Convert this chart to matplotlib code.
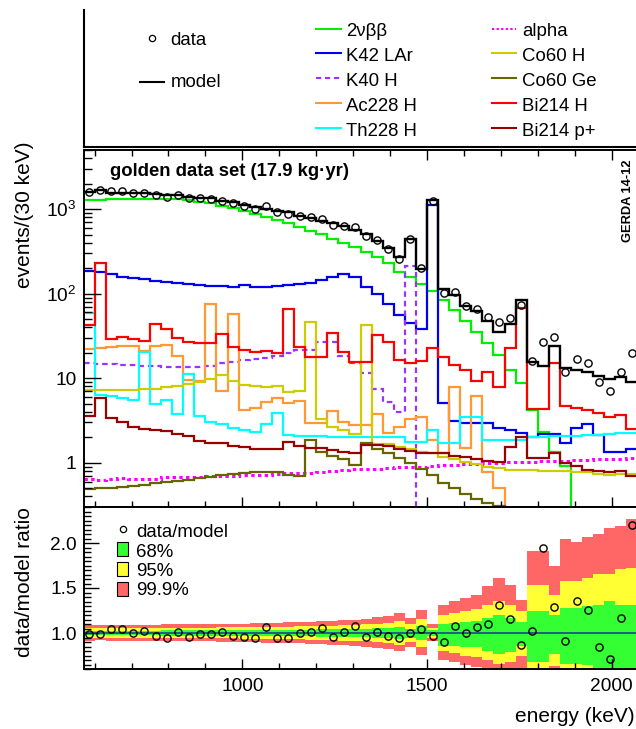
import numpy as np
import matplotlib.pyplot as plt
from matplotlib.lines import Line2D
from matplotlib.patches import Rectangle
from matplotlib.ticker import (FixedLocator, FixedFormatter, LogLocator,
                               MultipleLocator, NullFormatter)

plt.rcParams['font.family'] = ['Liberation Sans', 'DejaVu Sans']
plt.rcParams['mathtext.fontset'] = 'custom'
plt.rcParams['mathtext.rm'] = 'Liberation Sans'
plt.rcParams['mathtext.default'] = 'regular'

# ---------------------------------------------------------------------------
# Binning (keV) and the values, one entry per 30 keV bin
# ---------------------------------------------------------------------------
e_min, e_max, bin_width = 570, 2070, 30
edges = np.arange(e_min, e_max + bin_width, bin_width)
centers = 0.5 * (edges[:-1] + edges[1:])

data_counts = [1584, 1673, 1622, 1622, 1555, 1566, 1474, 1391, 1465, 1344,
               1346, 1327, 1263, 1183, 1075, 1001, 1086, 912, 870, 835,
               803, 769, 656, 636, 610, 485, 429, 340, 254, 443,
               203, 1242, 103, 105, 72, 66, 53, 46, 51, 74,
               16, 27, 31, 12, 17, 15, 9, 7, 12, 20]

model = [1600, 1690, 1560, 1560, 1555, 1535, 1520, 1480, 1450, 1400,
         1360, 1340, 1250, 1220, 1120, 1065, 1015, 960, 925, 835,
         795, 725, 690, 630, 565, 505, 425, 350, 270, 443,
         195, 1280, 114, 97, 72, 62, 48, 35, 44, 85,
         15.7, 13.9, 24.0, 13.1, 12.5, 11.9, 10.6, 9.8, 10.3, 9.1]

two_nbb = [1282, 1294, 1306, 1318, 1329, 1329, 1329, 1320, 1306, 1282,
           1225, 1172, 1089, 1023, 958, 875, 813, 743, 679, 609,
           556, 504, 443, 401, 359, 308, 269, 229, 182, 159,
           130, 108, 84, 64, 47, 35, 25.9, 18.8, 12.5, 8.7,
           4.2, 2.33, 1.35, 0.91, 0.01, 0.01, 0.01, 0.01, 0.01, 0.01]

k42_lar = [185, 179, 169, 159, 152, 148, 142, 139, 132, 129,
           126, 124, 123, 121, 126, 121, 121, 123, 126, 129,
           135, 145, 159, 171, 159, 121, 99, 75.5, 56, 44.6,
           37.9, 1119, 5.05, 3.12, 2.98, 2.95, 2.93, 2.6, 2.44, 2.27,
           2.04, 2.19, 2.19, 1.70, 2.6, 2.88, 2.13, 1.35, 1.34, 1.45]

k40_h = [15.0, 14.8, 14.6, 14.4, 14.2, 14.0, 13.9, 13.7, 13.7, 13.7,
         13.7, 13.8, 15.0, 15.7, 16.5, 17.0, 17.2, 18.5, 19.7, 21.6,
         21.6, 27.0, 27.0, 18.5, 15.0, 11.4, 7.4, 5.3, 4.0, 214,
         0.01, 0.01, 0.01, 0.01, 0.01, 0.01, 0.01, 0.01, 0.01, 0.01,
         0.01, 0.01, 0.01, 0.01, 0.01, 0.01, 0.01, 0.01, 0.01, 0.01]

ac228_h = [22.1, 23.0, 23.6, 24.3, 24.0, 21.2, 24.3, 24.5, 18.3, 9.5,
           9.35, 75.5, 7.1, 57.5, 4.2, 4.5, 5.3, 5.8, 5.05, 5.4,
           2.98, 2.93, 4.1, 3.06, 2.8, 2.8, 3.74, 2.27, 2.67, 3.27,
           3.5, 1.86, 1.30, 7.9, 1.48, 6.2, 0.77, 0.50, 0.01, 0.01,
           0.01, 0.01, 0.01, 0.01, 0.01, 0.01, 0.01, 0.01, 0.01, 0.01]

th228_h = [59.6, 6.3, 6.2, 5.8, 5.6, 20.6, 4.95, 5.6, 3.74, 11.2,
           3.6, 3.06, 2.88, 2.6, 2.44, 2.33, 2.88, 3.9, 2.13, 2.1,
           2.05, 2.05, 2.04, 2.04, 2.03, 2.03, 2.02, 2.02, 2.0, 1.78,
           1.78, 2.44, 1.70, 1.70, 3.5, 3.5, 1.86, 1.86, 1.86, 1.86,
           2.04, 2.04, 2.06, 2.08, 2.10, 2.12, 2.15, 2.2, 2.23, 2.23]

alpha = [0.64, 0.62, 0.65, 0.66, 0.65, 0.65, 0.64, 0.67, 0.67, 0.68,
         0.68, 0.69, 0.69, 0.70, 0.71, 0.72, 0.72, 0.73, 0.75, 0.76,
         0.76, 0.78, 0.79, 0.82, 0.84, 0.84, 0.85, 0.86, 0.88, 0.89,
         0.90, 0.92, 0.93, 0.95, 0.97, 0.98, 0.99, 1.00, 1.01, 1.02,
         1.03, 1.04, 1.05, 1.06, 1.07, 1.09, 1.10, 1.11, 1.12, 1.13]

co60_h = [7.3, 7.3, 7.3, 7.3, 7.3, 7.4, 7.4, 7.8, 8.1, 8.55,
          9.1, 9.7, 10.9, 9.35, 8.3, 8.1, 7.8, 8.1, 6.9, 7.1,
          46.6, 3.27, 2.67, 2.44, 2.21, 42.6, 1.68, 1.67, 1.55, 1.46,
          1.35, 1.29, 1.18, 1.10, 1.03, 0.98, 0.90, 0.86, 0.83, 0.83,
          0.82, 0.81, 0.80, 0.79, 0.78, 0.77, 0.74, 0.72, 0.74, 0.74]

co60_ge = [0.49, 0.50, 0.51, 0.52, 0.53, 0.55, 0.57, 0.59, 0.61, 0.63,
           0.66, 0.68, 0.71, 0.73, 0.76, 0.77, 0.77, 0.77, 0.72, 0.70,
           1.86, 1.35, 1.21, 1.10, 0.94, 1.73, 1.44, 1.29, 1.13, 0.99,
           0.84, 0.72, 0.58, 0.50, 0.43, 0.37, 0.33, 0.31, 0.2, 0.2,
           0.2, 0.2, 0.2, 0.2, 0.2, 0.2, 0.2, 0.2, 0.2, 0.2]

bi214_h = [42.6, 229, 28.9, 31.0, 28.9, 27.8, 43.8, 38.2, 30.1, 27.0,
           26.3, 25.9, 33.3, 23.6, 21.6, 20.6, 21.2, 19.7, 65.3, 23.2,
           17.7, 17.7, 34.0, 20.6, 15.7, 15.7, 32.4, 27.0, 16.4, 15.0,
           16.1, 22.5, 18.0, 14.3, 12.5, 9.35, 11.9, 7.9, 22.5, 68.4,
           4.3, 4.3, 15.0, 4.7, 4.5, 4.2, 3.85, 3.45, 3.67, 2.49]

bi214_p = [3.6, 5.9, 3.4, 3.06, 2.65, 2.52, 2.42, 2.36, 2.2, 2.06,
           1.82, 1.73, 1.70, 1.58, 1.53, 1.46, 1.46, 1.44, 1.78, 1.60,
           1.50, 1.48, 1.40, 1.35, 1.31, 1.63, 1.63, 1.60, 1.44, 1.37,
           1.29, 1.31, 1.29, 1.21, 1.18, 1.10, 1.06, 1.02, 1.55, 2.0,
           1.13, 1.13, 1.29, 0.99, 0.92, 0.82, 0.80, 0.77, 0.80, 0.70]

# ratio-panel bands (lower / upper edge of each probability band, per bin)
band68_hi = [1.027, 1.026, 1.027, 1.027, 1.027, 1.027, 1.027, 1.028, 1.028, 1.028,
             1.029, 1.029, 1.030, 1.030, 1.031, 1.032, 1.033, 1.034, 1.035, 1.036,
             1.037, 1.039, 1.040, 1.042, 1.044, 1.047, 1.051, 1.056, 1.064, 1.050,
             1.075, 1.029, 1.097, 1.109, 1.120, 1.135, 1.165, 1.195, 1.165, 1.120,
             1.247, 1.247, 1.202, 1.277, 1.277, 1.296, 1.307, 1.36, 1.307, 1.315]
band68_lo = [0.973, 0.974, 0.973, 0.973, 0.973, 0.973, 0.973, 0.972, 0.972, 0.972,
             0.971, 0.971, 0.970, 0.970, 0.969, 0.968, 0.967, 0.966, 0.965, 0.964,
             0.963, 0.961, 0.960, 0.958, 0.956, 0.953, 0.949, 0.944, 0.936, 0.950,
             0.925, 0.971, 0.86, 0.86, 0.85, 0.84, 0.80, 0.77, 0.79, 0.86,
             0.68, 0.68, 0.77, 0.66, 0.66, 0.64, 0.59, 0.58, 0.58, 0.57]
band95_hi = [1.055, 1.053, 1.055, 1.055, 1.055, 1.055, 1.055, 1.057, 1.057, 1.057,
             1.059, 1.059, 1.062, 1.062, 1.064, 1.066, 1.068, 1.070, 1.072, 1.074,
             1.076, 1.080, 1.082, 1.086, 1.090, 1.096, 1.105, 1.115, 1.131, 1.103,
             1.154, 1.059, 1.202, 1.221, 1.247, 1.270, 1.315, 1.352, 1.315, 1.240,
             1.531, 1.531, 1.419, 1.576, 1.576, 1.614, 1.66, 1.66, 1.708, 1.727]
band95_lo = [0.946, 0.948, 0.946, 0.946, 0.946, 0.946, 0.946, 0.944, 0.944, 0.944,
             0.942, 0.942, 0.940, 0.940, 0.938, 0.936, 0.934, 0.932, 0.930, 0.928,
             0.926, 0.922, 0.920, 0.916, 0.912, 0.906, 0.898, 0.888, 0.872, 0.900,
             0.850, 0.942, 0.80, 0.78, 0.75, 0.73, 0.70, 0.66, 0.68, 0.74,
             0.50, 0.50, 0.63, 0.45, 0.45, 0.45, 0.45, 0.45, 0.45, 0.45]
band999_hi = [1.092, 1.088, 1.092, 1.092, 1.092, 1.092, 1.092, 1.095, 1.095, 1.095,
              1.099, 1.099, 1.102, 1.102, 1.105, 1.109, 1.112, 1.116, 1.119, 1.122,
              1.126, 1.133, 1.136, 1.143, 1.150, 1.160, 1.173, 1.190, 1.218, 1.170,
              1.255, 1.099, 1.315, 1.352, 1.390, 1.419, 1.52, 1.607, 1.531, 1.363,
              1.913, 1.913, 1.745, 2.045, 2.01, 2.064, 2.10, 2.165, 2.19, 2.27]
band999_lo = [0.914, 0.917, 0.914, 0.914, 0.914, 0.914, 0.914, 0.910, 0.910, 0.910,
              0.907, 0.907, 0.904, 0.904, 0.901, 0.898, 0.894, 0.891, 0.888, 0.885,
              0.882, 0.875, 0.872, 0.866, 0.859, 0.850, 0.837, 0.821, 0.795, 0.840,
              0.760, 0.907, 0.70, 0.68, 0.64, 0.62, 0.58, 0.55, 0.57, 0.60,
              0.30, 0.30, 0.50, 0.30, 0.30, 0.30, 0.30, 0.30, 0.30, 0.30]

# component name -> (values, colour, linestyle), split in two legend columns
col_left = [('2\u03bd\u03b2\u03b2', two_nbb, '#00ee00', '-'),
            ('K42 LAr', k42_lar, '#0000ee', '-'),
            ('K40 H', k40_h, '#9933ff', (0, (2.5, 1.8))),
            ('Ac228 H', ac228_h, '#ff9933', '-'),
            ('Th228 H', th228_h, '#00ffff', '-')]
col_right = [('alpha', alpha, '#ff00ff', (0, (1.1, 1.1))),
             ('Co60 H', co60_h, '#cccc00', '-'),
             ('Co60 Ge', co60_ge, '#666600', '-'),
             ('Bi214 H', bi214_h, '#ff0000', '-'),
             ('Bi214 p+', bi214_p, '#990000', '-')]

# ---------------------------------------------------------------------------
# Figure layout (pixel based, 636 x 729 at 100 dpi)
# ---------------------------------------------------------------------------
W, H = 636, 729
fig = plt.figure(figsize=(W / 100, H / 100), dpi=100)


def fx(x):
    return x / W


def fy(y):
    return 1 - y / H


ax = fig.add_axes([fx(83.5), fy(507), (637.5 - 83.5) / W, (507 - 150) / H])
axr = fig.add_axes([fx(83.5), fy(669), (637.5 - 83.5) / W, (669 - 507) / H],
                   sharex=ax)

# components, then the model and the data on top
for name, vals, color, ls in col_left + col_right:
    lw = 2.2 if name == 'alpha' else 1.6
    ax.stairs(vals, edges, baseline=None, color=color, lw=lw, linestyle=ls)
ax.stairs(model, edges, baseline=None, color='black', lw=1.7)
ax.plot(centers, data_counts, 'o', mfc='none', mec='black', ms=5.2, mew=1.0)

ax.set_xlim(e_min, e_max)
ax.set_yscale('log')
ax.set_ylim(0.3, 5000)
ax.xaxis.set_major_locator(MultipleLocator(500))
ax.xaxis.set_minor_locator(MultipleLocator(100))
ax.tick_params(axis='x', which='both', direction='in', top=True, bottom=True,
               labelbottom=False)
ax.tick_params(axis='x', which='major', length=7, width=1)
ax.tick_params(axis='x', which='minor', length=4, width=1)
ax.yaxis.set_major_locator(FixedLocator([1, 10, 100, 1000]))
ax.yaxis.set_major_formatter(FixedFormatter(['1', '10', '10$^{2}$', '10$^{3}$']))
ax.yaxis.set_minor_locator(LogLocator(base=10, subs=np.arange(2, 10) * 1.0, numticks=20))
ax.yaxis.set_minor_formatter(NullFormatter())
ax.tick_params(axis='y', which='major', direction='in', length=12, width=1,
               labelsize=13.8, pad=5)
ax.tick_params(axis='y', which='minor', direction='in', length=6, width=1)
for sp in ax.spines.values():
    sp.set_linewidth(1.4)

ax.text(fx(110) , fy(176.5), 'golden data set (17.9 kg\u00b7yr)', transform=fig.transFigure,
        fontsize=13.3, fontweight='bold', ha='left', va='baseline')
fig.text(fx(628), fy(160), 'GERDA 14-12', rotation=90, ha='center', va='top',
         fontsize=9.3, fontweight='bold')

# ratio panel
ratio = np.array(data_counts) / np.array(model)
axr.stairs(band999_hi, edges, baseline=band999_lo, fill=True, color='#ff6666', lw=0)
axr.stairs(band95_hi, edges, baseline=band95_lo, fill=True, color='#ffff33', lw=0)
axr.stairs(band68_hi, edges, baseline=band68_lo, fill=True, color='#33ff33', lw=0)
axr.axhline(1.0, color='#1a3399', lw=1.1)
axr.plot(centers, ratio, 'o', mfc='none', mec='black', ms=5.2, mew=1.0)

axr.set_ylim(0.6, 2.4)
axr.yaxis.set_major_locator(FixedLocator([1.0, 1.5, 2.0]))
axr.yaxis.set_major_formatter(FixedFormatter(['1.0', '1.5', '2.0']))
axr.yaxis.set_minor_locator(MultipleLocator(0.05))
axr.tick_params(axis='y', which='major', direction='in', length=11, width=1,
                labelsize=13.8, pad=5)
axr.tick_params(axis='y', which='minor', direction='in', length=5, width=1)
axr.tick_params(axis='x', which='both', direction='in', top=False, bottom=True,
                labelsize=13.8, pad=6.5)
axr.tick_params(axis='x', which='major', length=7, width=1)
axr.tick_params(axis='x', which='minor', length=4, width=1)
for sp in axr.spines.values():
    sp.set_linewidth(1.4)

# axis titles
fig.text(fx(25), fy(141), 'events/(30 keV)', rotation=90, ha='center', va='top',
         fontsize=15)
fig.text(fx(25), fy(507), 'data/model ratio', rotation=90, ha='center', va='top',
         fontsize=15)
fig.text(fx(635), fy(717), 'energy (keV)', ha='right', va='center', fontsize=15)

# ---------------------------------------------------------------------------
# Legend box above the spectrum
# ---------------------------------------------------------------------------
fig.add_artist(Line2D([fx(84), fx(84)], [fy(10), fy(147)], color='black', lw=1.5,
                      transform=fig.transFigure))
fig.add_artist(Line2D([fx(84), fx(640)], [fy(147), fy(147)], color='black', lw=1.5,
                      transform=fig.transFigure))

fig.add_artist(Line2D([fx(152)], [fy(38.3)], marker='o', mfc='none', mec='black',
                      ms=4.5, mew=0.9, transform=fig.transFigure))
fig.text(fx(170), fy(45), 'data', fontsize=13.4, va='baseline')
fig.add_artist(Line2D([fx(140), fx(164)], [fy(81.7), fy(81.7)], color='black', lw=1.5,
                      transform=fig.transFigure))
fig.text(fx(171), fy(87.3), 'model', fontsize=13.4, va='baseline')

row_y = [28.5, 53.3, 78.0, 103.0, 127.5]
for (x0, x1, xt), entries in [((316, 341, 346), col_left), ((492, 516, 522), col_right)]:
    for y, (name, vals, color, ls) in zip(row_y, entries):
        fig.add_artist(Line2D([fx(x0), fx(x1)], [fy(y), fy(y)], color=color, lw=1.5,
                              linestyle=ls, transform=fig.transFigure))
        fig.text(fx(xt), fy(y + 8), name, fontsize=13.4, va='baseline')

# ratio legend
fig.add_artist(Line2D([fx(123)], [fy(529.3)], marker='o', mfc='none', mec='black',
                      ms=4.5, mew=0.9, transform=fig.transFigure))
fig.text(fx(136), fy(537), 'data/model', fontsize=13.4, va='baseline')
for (y0, y1, yb), color, label in [((542, 556, 556.7), '#33ff33', '68%'),
                                    ((562, 576, 576), '#ffff33', '95%'),
                                    ((582, 596, 595.3), '#ff6666', '99.9%')]:
    fig.add_artist(Rectangle((fx(117.5), fy(y1)), 11 / W, (y1 - y0) / H,
                             facecolor=color, edgecolor='black', lw=0.8,
                             transform=fig.transFigure))
    fig.text(fx(136), fy(yb), label, fontsize=13.4, va='baseline')

fig.savefig('out.png', dpi=100)
